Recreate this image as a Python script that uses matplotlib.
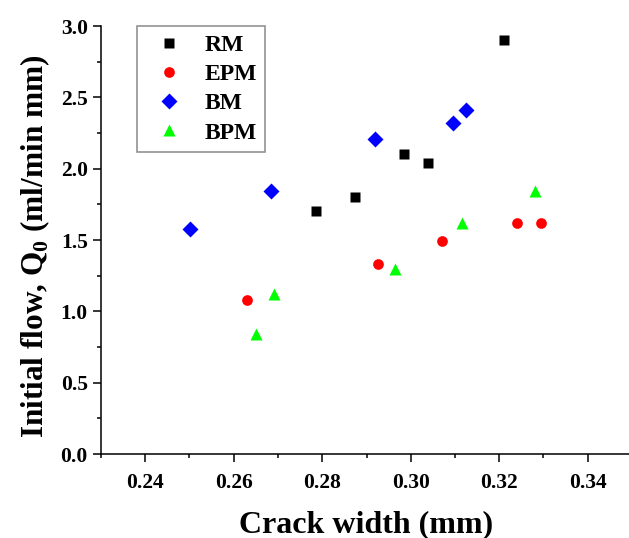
import numpy as np
import matplotlib.pyplot as plt
from matplotlib.ticker import MultipleLocator, FormatStrFormatter

# crack width (mm) vs initial flow Q0 (ml/min mm) for each mortar type
rm_x = [0.2786, 0.2875, 0.2985, 0.3040, 0.3210]
rm_y = [1.70, 1.80, 2.10, 2.04, 2.90]

epm_x = [0.2630, 0.2925, 0.3070, 0.3240, 0.3295]
epm_y = [1.08, 1.33, 1.49, 1.62, 1.62]

bm_x = [0.2501, 0.2685, 0.2920, 0.3095, 0.3125]
bm_y = [1.58, 1.84, 2.21, 2.32, 2.41]

bpm_x = [0.2651, 0.2690, 0.2965, 0.3115, 0.3280]
bpm_y = [0.84, 1.12, 1.30, 1.62, 1.84]

plt.rcParams['font.family'] = ['Liberation Serif', 'DejaVu Serif']
plt.rcParams['font.weight'] = 'bold'
plt.rcParams['mathtext.fontset'] = 'custom'
plt.rcParams['mathtext.rm'] = 'Liberation Serif:bold'
plt.rcParams['mathtext.bf'] = 'Liberation Serif:bold'

fig = plt.figure(figsize=(6.29, 5.38), dpi=100)
ax = fig.add_axes([101/629, 84/538, 531/629, 428/538])

ax.plot(rm_x, rm_y, 's', color='black', ms=6.5, mec='none', label='RM')
ax.plot(epm_x, epm_y, 'o', color='red', ms=7.7, mec='none', label='EPM')
ax.plot(bm_x, bm_y, 'D', color='blue', ms=8.3, mec='none', label='BM')
ax.plot(bpm_x, bpm_y, '^', color='#00ff00', ms=8.5, mec='none', label='BPM')

ax.set_xlim(0.23, 0.35)
ax.set_ylim(0, 3.0)
ax.xaxis.set_major_locator(MultipleLocator(0.02))
ax.xaxis.set_minor_locator(MultipleLocator(0.01))
ax.yaxis.set_major_locator(MultipleLocator(0.5))
ax.yaxis.set_minor_locator(MultipleLocator(0.25))
ax.xaxis.set_major_formatter(FormatStrFormatter('%.2f'))
ax.yaxis.set_major_formatter(FormatStrFormatter('%.1f'))

ax.spines['top'].set_visible(False)
ax.spines['right'].set_visible(False)
ax.spines['left'].set_linewidth(1.1)
ax.spines['bottom'].set_linewidth(1.1)
ax.tick_params(which='major', direction='out', length=6, width=1.1, labelsize=15.5)
ax.tick_params(axis='x', which='major', pad=8)
ax.tick_params(which='minor', direction='out', length=3, width=1.1)
for lbl in ax.get_xticklabels() + ax.get_yticklabels():
    lbl.set_fontweight('bold')

ax.set_xlabel('Crack width (mm)', fontsize=23, fontweight='bold', labelpad=12)
ax.set_ylabel(r'Initial flow, Q$_0$ (ml/min mm)', fontsize=22.5, fontweight='bold', labelpad=6)
ax.yaxis.label.set_y(0.485)

leg = ax.legend(loc='upper left', bbox_to_anchor=(36/531, 1.0), fontsize=17,
                frameon=True, fancybox=False, borderpad=0.35, labelspacing=0.33,
                handletextpad=0.5, handlelength=2.0, borderaxespad=0)
leg.get_frame().set_edgecolor('#777777')
leg.get_frame().set_linewidth(1.2)
for t in leg.get_texts():
    t.set_fontweight('bold')

fig.savefig('out.png', dpi=100)
